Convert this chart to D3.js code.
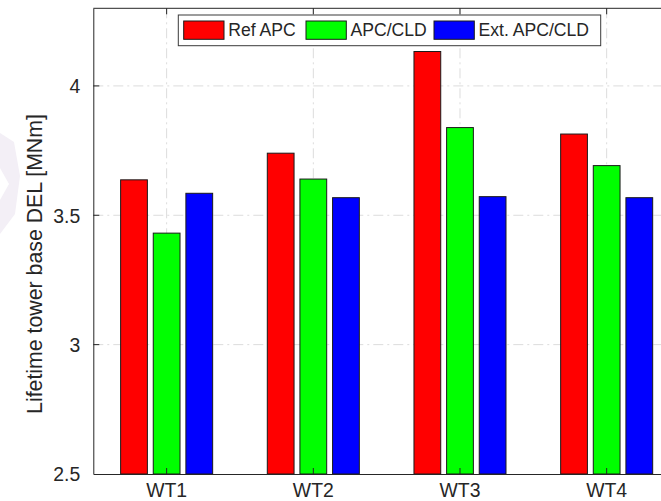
<!DOCTYPE html>
<html>
<head>
<meta charset="utf-8">
<script src="https://cdn.jsdelivr.net/npm/d3@7"></script>
<style>
  html, body { margin: 0; padding: 0; background: #fff; }
  svg { display: block; font-family: "Liberation Sans", Arial, Helvetica, sans-serif; }
</style>
</head>
<body>
<svg id="chart" width="661" height="501"></svg>
<script>
// Turbines on the x axis
const turbines = ["WT1", "WT2", "WT3", "WT4"];
// Controller variants (one bar per turbine each)
const seriesNames = ["Ref APC", "APC/CLD", "Ext. APC/CLD"];
const seriesColors = ["#ff0000", "#00ff00", "#0000ff"];
// Lifetime tower base damage-equivalent load [MNm]
const refAPC   = [3.637, 3.740, 4.133, 3.814];
const apcCLD   = [3.431, 3.640, 3.839, 3.692];
const extAPCCLD = [3.585, 3.568, 3.572, 3.568];
const yTicks = [2.5, 3, 3.5, 4];
const yTickLabels = ["2.5", "3", "3.5", "4"];
const yLabel = "Lifetime tower base DEL [MNm]";

const seriesValues = [refAPC, apcCLD, extAPCCLD];

const svg = d3.select("#chart");
const axisColor = "#262626";
const plotL = 93.3, plotR = 680, plotT = 8.3, plotB = 474;

// faint background emblem at the left edge
svg.append("path")
  .attr("d", "M0,133 L14,142 L20,176 L15,214 L0,234 Z M0,168 L9,184 L0,200 Z")
  .attr("fill", "#f3eff6")
  .attr("fill-rule", "evenodd");

const x = d3.scaleBand().domain(turbines).range([plotL, plotR]).paddingInner(0).paddingOuter(0);
const groupW = x.bandwidth() * 0.6675;
const xs = d3.scaleBand().domain(seriesNames)
  .range([(x.bandwidth() - groupW) / 2, (x.bandwidth() + groupW) / 2])
  .paddingInner(0.18).paddingOuter(0.09);
const y = d3.scaleLinear().domain([2.5, 4.3]).range([plotB, plotT]);

const plot = svg.append("g");

// grid: dash-dot light lines
const grid = plot.append("g").attr("stroke", "#dcdcdc").attr("stroke-width", 1)
  .attr("stroke-dasharray", "10,4,2,4").attr("fill", "none");
yTicks.filter(t => t > 2.5).forEach(t => {
  grid.append("line").attr("x1", plotL).attr("x2", plotR)
    .attr("y1", y(t)).attr("y2", y(t));
});
turbines.forEach(t => {
  const cx = x(t) + x.bandwidth() / 2;
  grid.append("line").attr("x1", cx).attr("x2", cx).attr("y1", plotT).attr("y2", plotB);
});

// bars
const rows = turbines.map((t, i) => ({ t, vals: seriesValues.map((s, k) => ({ name: seriesNames[k], k, v: s[i] })) }));
const groups = plot.selectAll("g.grp").data(rows).join("g")
  .attr("class", "grp")
  .attr("transform", d => `translate(${x(d.t)},0)`);
groups.selectAll("rect").data(d => d.vals).join("rect")
  .attr("x", d => xs(d.name))
  .attr("width", xs.bandwidth())
  .attr("y", d => y(d.v))
  .attr("height", d => y(2.5) - y(d.v))
  .attr("fill", d => seriesColors[d.k])
  .attr("stroke", "#1a1a1a")
  .attr("stroke-width", 1);

// axes
const yAxis = d3.axisLeft(y).tickValues(yTicks).tickSize(0).tickPadding(13)
  .tickFormat((d, i) => yTickLabels[i]);
const gy = svg.append("g").attr("transform", `translate(${plotL},0)`).call(yAxis);
gy.select(".domain").attr("stroke", axisColor).attr("stroke-width", 1);
gy.selectAll("text").attr("fill", axisColor).style("font-size", "19.4px")
  .attr("dy", "0.35em");

const xAxis = d3.axisBottom(x).tickSize(0).tickPadding(9);
const gx = svg.append("g").attr("transform", `translate(0,${plotB})`).call(xAxis);
gx.select(".domain").attr("stroke", axisColor).attr("stroke-width", 1);
gx.selectAll("text").attr("fill", axisColor).style("font-size", "19.4px");

// top border
svg.append("line").attr("x1", plotL).attr("x2", plotR).attr("y1", plotT).attr("y2", plotT)
  .attr("stroke", axisColor).attr("stroke-width", 1);

// inward tick marks
const tickG = svg.append("g").attr("stroke", axisColor).attr("stroke-width", 1);
yTicks.filter(t => t > 2.5).forEach(t => {
  tickG.append("line").attr("x1", plotL).attr("x2", plotL + 6).attr("y1", y(t)).attr("y2", y(t));
});
turbines.forEach(t => {
  const cx = x(t) + x.bandwidth() / 2;
  tickG.append("line").attr("x1", cx).attr("x2", cx).attr("y1", plotT).attr("y2", plotT + 6);
  tickG.append("line").attr("x1", cx).attr("x2", cx).attr("y1", plotB).attr("y2", plotB - 6);
});

// y label
svg.append("text")
  .attr("transform", "translate(41.7,264) rotate(-90)")
  .attr("text-anchor", "middle")
  .attr("fill", axisColor)
  .style("font-size", "21.3px")
  .text(yLabel);

// legend
const lg = svg.append("g");
lg.append("rect").attr("x", 178.3).attr("y", 15).attr("width", 422.4).attr("height", 30.7)
  .attr("fill", "#fff").attr("stroke", "#3a3a3a").attr("stroke-width", 1);
const legendX = [183.7, 306, 434];
seriesNames.forEach((n, k) => {
  lg.append("rect").attr("x", legendX[k]).attr("y", 21).attr("width", 40.3).attr("height", 18.3)
    .attr("fill", seriesColors[k]).attr("stroke", "#1a1a1a").attr("stroke-width", 1);
  lg.append("text").attr("x", legendX[k] + 44.5).attr("y", 30.3).attr("dy", "0.35em")
    .attr("fill", axisColor).style("font-size", "17.6px").text(n);
});
</script>
</body>
</html>
